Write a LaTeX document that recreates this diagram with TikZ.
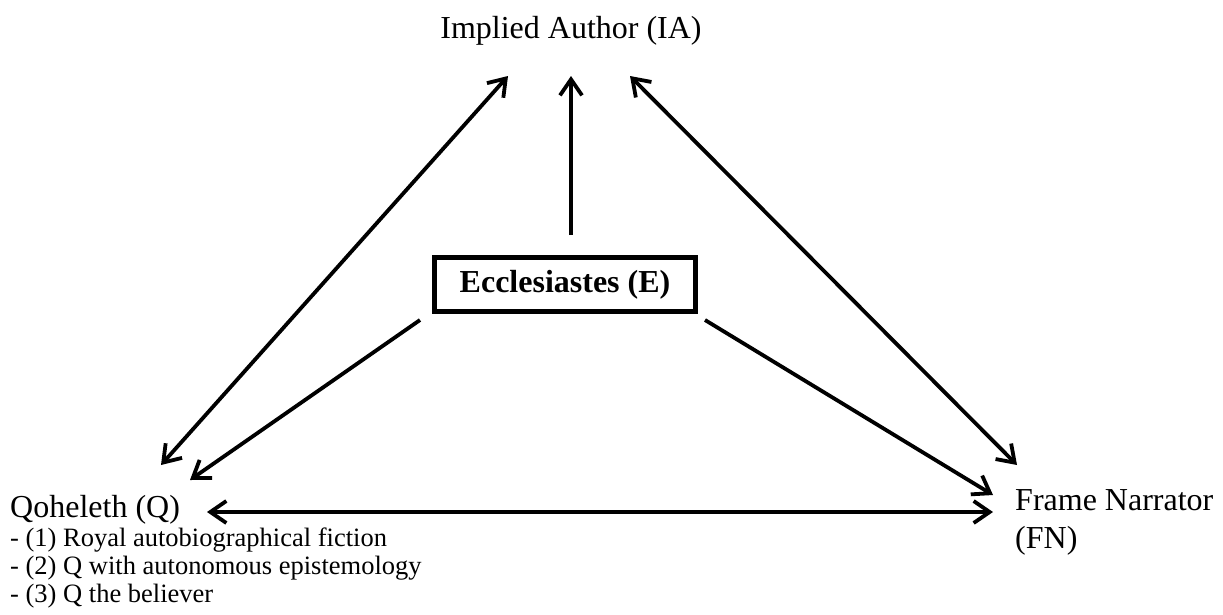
\documentclass[tikz,border=0pt]{standalone}
\usepackage{fontspec}
\setmainfont{Liberation Serif}
\usetikzlibrary{arrows.meta}
\begin{document}
\begin{tikzpicture}[x=1pt,y=-1pt,
  big/.style={inner sep=0pt,font=\fontsize{32}{38}\selectfont},
  small/.style={inner sep=0pt,font=\fontsize{26.5}{28}\selectfont},
  tip/.style={},
  arr/.style={line width=3.8pt,arrows={-Straight Barb[length=16pt,width=22pt]}},
  darr/.style={line width=3.8pt,arrows={Straight Barb[length=16pt,width=22pt]-Straight Barb[length=16pt,width=22pt]}},
  ebox/.style={draw,line width=5pt,minimum width=261pt,minimum height=54pt,inner sep=0pt,font=\fontsize{32}{38}\selectfont\bfseries}]
\useasboundingbox (0,0) rectangle (1223,614);
\node[big,anchor=base] (IA) at (571,38) {Implied Author (IA)};
\node[ebox] (E) at (565,284.5) {Ecclesiastes (E)};
\node[big,anchor=base west] (Q) at (10,517) {Qoheleth (Q)};
\node[small,anchor=base west] (Q1) at (10,546) {- (1) Royal autobiographical fiction};
\node[small,anchor=base west] (Q2) at (10,574) {- (2) Q with autonomous epistemology};
\node[small,anchor=base west] (Q3) at (10,602) {- (3) Q the believer};
\node[big,anchor=base west] (FN) at (1015,510) {Frame Narrator};
\node[big,anchor=base west] (FN2) at (1015,548) {(FN)};
% connector end points
\coordinate (iaL) at (508,76);
\coordinate (iaM) at (571,76);
\coordinate (iaR) at (630,76);
\coordinate (eT) at (571,235);
\coordinate (eL) at (420,320);
\coordinate (eR) at (705,320);
\coordinate (qa) at (161,465);
\coordinate (qb) at (190,480);
\coordinate (qc) at (207,512);
\coordinate (fa) at (1017,465);
\coordinate (fb) at (993,495);
\coordinate (fc) at (993,512);
\draw[darr] (qa) -- (iaL);
\draw[arr] (eT) -- (iaM);
\draw[darr] (iaR) -- (fa);
\draw[arr] (eL) -- (qb);
\draw[arr] (eR) -- (fb);
\draw[darr] (qc) -- (fc);
\end{tikzpicture}
\end{document}
